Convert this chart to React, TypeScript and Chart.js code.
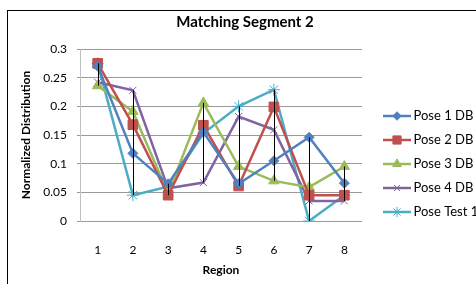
import React, { useEffect, useRef } from "react";
import { Chart, registerables } from "chart.js";
import { drawPoint } from "chart.js/helpers";

Chart.register(...registerables);

const categories = ["1", "2", "3", "4", "5", "6", "7", "8"];
const pose1 = [0.27, 0.118, 0.065, 0.155, 0.065, 0.105, 0.146, 0.066];
const pose2 = [0.275, 0.168, 0.045, 0.167, 0.061, 0.199, 0.045, 0.045];
const pose3 = [0.236, 0.191, 0.048, 0.206, 0.095, 0.07, 0.059, 0.095];
const pose4 = [0.242, 0.228, 0.057, 0.067, 0.182, 0.159, 0.035, 0.035];
const poseTest = [0.275, 0.045, 0.06, 0.153, 0.2, 0.229, 0.0, 0.045];
const seriesNames = ["Pose 1 DB", "Pose 2 DB", "Pose 3 DB", "Pose 4 DB", "Pose Test 1"];
const yTicks = [0, 0.05, 0.1, 0.15, 0.2, 0.25, 0.3];

const FONT = "Lato";

const styles = [
  { color: "#4F81BD", pointStyle: "rectRot", radius: 5, bw: 1 },
  { color: "#C0504D", pointStyle: "rect", radius: 6.8, bw: 1 },
  { color: "#9BBB59", pointStyle: "triangle", radius: 6, bw: 1 },
  { color: "#8064A2", pointStyle: "crossRot", radius: 5, bw: 1 },
  { color: "#4BACC6", pointStyle: "star", radius: 6, bw: 1 },
];

function makeLegendImage(s: any) {
  const c = document.createElement("canvas");
  c.width = 28;
  c.height = 14;
  const ctx = c.getContext("2d")!;
  ctx.strokeStyle = s.color;
  ctx.fillStyle = s.color;
  ctx.lineWidth = 2.5;
  ctx.beginPath();
  ctx.moveTo(0, 7);
  ctx.lineTo(28, 7);
  ctx.stroke();
  ctx.lineWidth = s.bw;
  drawPoint(ctx, { pointStyle: s.pointStyle, radius: s.radius * 0.85, borderWidth: s.bw, rotation: 0 } as any, 14, 7);
  return c;
}

const highLowPlugin = {
  id: "highLow",
  afterDatasetsDraw(chart: any) {
    const { ctx, scales } = chart;
    const ds = chart.data.datasets;
    ctx.save();
    ctx.strokeStyle = "#000";
    ctx.lineWidth = 1;
    for (let i = 0; i < categories.length; i++) {
      const vals = ds.map((d: any) => d.data[i]);
      const hi = Math.max(...vals);
      const lo = Math.min(...vals);
      const x = Math.round(scales.x.getPixelForValue(i)) + 0.5;
      ctx.beginPath();
      ctx.moveTo(x, scales.y.getPixelForValue(hi));
      ctx.lineTo(x, scales.y.getPixelForValue(lo));
      ctx.stroke();
    }
    ctx.restore();
  },
};

export default function App() {
  const ref = useRef<HTMLCanvasElement>(null);
  useEffect(() => {
    const allData = [pose1, pose2, pose3, pose4, poseTest];
    const imgs = styles.map(makeLegendImage);
    const chart = new Chart(ref.current!, {
      type: "line",
      data: {
        labels: categories,
        datasets: allData.map((d, i) => ({
          label: seriesNames[i],
          data: d,
          borderColor: styles[i].color,
          backgroundColor: styles[i].color,
          borderWidth: 2.5,
          pointStyle: styles[i].pointStyle as any,
          pointRadius: styles[i].radius,
          pointBorderWidth: styles[i].bw,
          pointBackgroundColor: styles[i].color,
          pointBorderColor: styles[i].color,
          tension: 0,
        })),
      },
      options: {
        responsive: false,
        animation: false,
        layout: { padding: { left: 0, top: 0, right: 9, bottom: 0 } },
        plugins: {
          tooltip: { enabled: false },
          title: {
            display: true,
            text: "Matching Segment 2",
            color: "#000",
            font: { family: FONT, size: 15, weight: "bold" },
            padding: { top: 2, bottom: 18 },
          },
          legend: {
            display: true,
            position: "right",
            maxWidth: 106,
            labels: {
              usePointStyle: true,
              pointStyleWidth: 20,
              padding: 11,
              color: "#000",
              font: { family: FONT, size: 13 },
              generateLabels: (ch: any) =>
                ch.data.datasets.map((d: any, i: number) => ({
                  text: d.label,
                  pointStyle: imgs[i],
                  fillStyle: d.borderColor,
                  strokeStyle: d.borderColor,
                  lineWidth: 0,
                  hidden: false,
                  datasetIndex: i,
                  fontColor: "#000",
                })),
            },
          },
        },
        scales: {
          x: {
            type: "category",
            offset: true,
            grid: { display: false },
            border: { display: false },
            ticks: { color: "#000", padding: 14, font: { family: FONT, size: 12 } },
            title: {
              display: true,
              text: "Region",
              color: "#000",
              font: { family: FONT, size: 12, weight: "bold" },
              padding: { top: 0, bottom: 40 },
            },
            afterFit: (s: any) => {
              s.height = 96;
            },
          },
          y: {
            type: "linear",
            min: 0,
            max: 0.3,
            afterBuildTicks: (s: any) => {
              s.ticks = yTicks.map((v) => ({ value: v }));
            },
            grid: { color: "#9a9a9a", tickLength: 3, tickColor: "#9a9a9a" },
            border: { display: true, color: "#c0c0c0" },
            ticks: {
              color: "#000",
              padding: 10,
              font: { family: FONT, size: 12 },
              callback: (v: any) => String(+Number(v).toFixed(2)),
            },
            title: {
              display: true,
              text: "Normalized Distribution",
              color: "#000",
              font: { family: FONT, size: 12, weight: "bold" },
              padding: { top: 11, bottom: 0 },
            },
            afterFit: (s: any) => {
              s.width = 72;
            },
          },
          yR: {
            type: "linear",
            position: "right",
            display: true,
            grid: { display: false, drawTicks: false },
            border: { display: false },
            ticks: { display: false },
            afterFit: (s: any) => {
              s.width = 14;
            },
          },
        },
      },
      plugins: [highLowPlugin],
    });
    return () => chart.destroy();
  }, []);

  return (
    <div style={{ position: "fixed", left: 0, top: 0, width: 476, height: 284, overflow: "hidden", background: "#fff" }}>
      <div style={{ position: "absolute", left: 7, top: 10, width: 520, height: 340, border: "1px solid #000", boxSizing: "border-box" }}>
        <canvas ref={ref} width={483} height={306} style={{ display: "block" }} />
      </div>
    </div>
  );
}
